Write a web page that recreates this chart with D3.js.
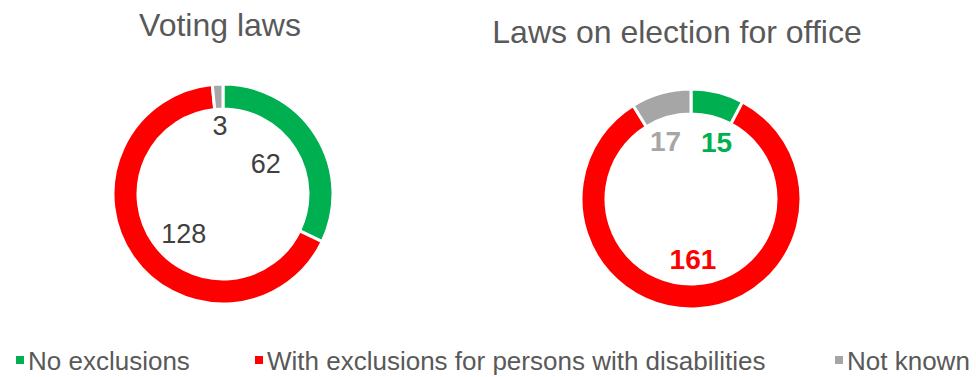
<!DOCTYPE html>
<html>
<head>
<meta charset="utf-8">
<script src="https://cdn.jsdelivr.net/npm/d3@7"></script>
<style>
  html, body { margin: 0; padding: 0; background: #fff; }
  svg { display: block; font-family: "Liberation Sans", Arial, sans-serif; }
</style>
</head>
<body>
<svg id="chart" width="976" height="377"></svg>
<script>
// ---- Data ----
const categories = ["No exclusions", "With exclusions for persons with disabilities", "Not known"];
const chartTitles = ["Voting laws", "Laws on election for office"];
const votingValues = [62, 128, 3];
const electionValues = [15, 161, 17];
const colors = ["#00B050", "#FF0000", "#A6A6A6"];

// ---- Layout ----
const svg = d3.select("#chart");
const outerR = 110, innerR = 85;

const charts = [
  { title: chartTitles[0], values: votingValues, cx: 223, cy: 194, titleX: 220, titleY: 36,
    bold: false, fontSize: 27, labelR: 60, labelColor: () => "#404040",
    nudges: [[-8, 2], [10, 6], [0, -8]] },
  { title: chartTitles[1], values: electionValues, cx: 691, cy: 199, titleX: 677, titleY: 43,
    bold: true, fontSize: 28, labelR: 60, labelColor: i => colors[i],
    nudges: [[11, 2], [0, 1], [-9, 0]] }
];

const pie = d3.pie().sort(null).value(d => d);
const arc = d3.arc().innerRadius(innerR).outerRadius(outerR);

charts.forEach(c => {
  svg.append("text")
    .attr("x", c.titleX).attr("y", c.titleY)
    .attr("text-anchor", "middle")
    .attr("font-size", 32)
    .attr("fill", "#595959")
    .text(c.title);

  const g = svg.append("g").attr("transform", `translate(${c.cx},${c.cy})`);
  const arcs = pie(c.values);
  g.selectAll("path").data(arcs).join("path")
    .attr("d", arc)
    .attr("fill", (d, i) => colors[i])
    .attr("stroke", "#fff")
    .attr("stroke-width", 3);

  const labelArc = d3.arc().innerRadius(c.labelR).outerRadius(c.labelR);
  g.selectAll("text.lbl").data(arcs).join("text")
    .attr("class", "lbl")
    .attr("transform", (d, i) => {
      const [x, y] = labelArc.centroid(d);
      return `translate(${x + c.nudges[i][0]},${y + c.nudges[i][1]})`;
    })
    .attr("text-anchor", "middle")
    .attr("dominant-baseline", "central")
    .attr("font-size", c.fontSize)
    .attr("font-weight", c.bold ? "bold" : "normal")
    .attr("fill", (d, i) => c.labelColor(i))
    .text(d => d.data);
});

// ---- Legend ----
const legendX = [16, 255, 835];
const legend = svg.append("g");
categories.forEach((cat, i) => {
  legend.append("rect")
    .attr("x", legendX[i]).attr("y", 356)
    .attr("width", 8).attr("height", 8)
    .attr("fill", colors[i]);
  legend.append("text")
    .attr("x", legendX[i] + 12).attr("y", 370)
    .attr("font-size", 26)
    .attr("fill", "#595959")
    .text(cat);
});
</script>
</body>
</html>
